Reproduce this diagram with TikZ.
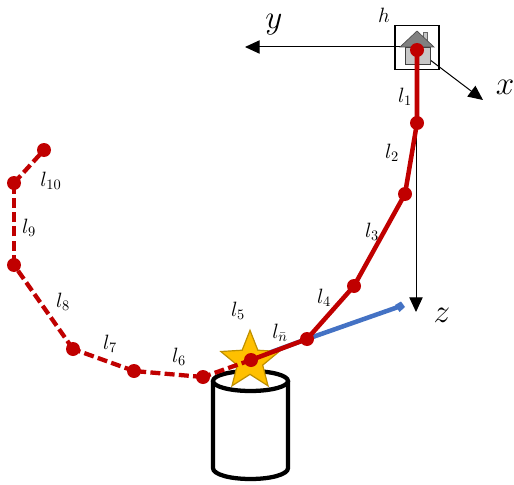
\documentclass[tikz,border=0pt]{standalone}
\usetikzlibrary{arrows.meta,shapes.geometric}
\definecolor{jred}{HTML}{C00000}
\definecolor{jblue}{HTML}{4472C4}
\definecolor{jstar}{HTML}{FFC000}
\definecolor{jstaredge}{HTML}{BF9000}
\tikzset{
  joint/.style={circle,fill=jred,inner sep=0pt,minimum size=10.5pt},
  axis/.style={draw=black,line width=0.75pt,-{Triangle[length=11pt,width=10pt]}},
  solidlink/.style={draw=jred,line width=3.4pt},
  dashlink/.style={draw=jred,line width=3.2pt,dash pattern=on 7.5pt off 3.2pt},
  lbl/.style={inner sep=0pt,font=\Large,scale=1.08},
  axlbl/.style={inner sep=0pt,font=\huge,scale=1.2},
}
\begin{document}
\begin{tikzpicture}[x=0.75pt,y=-0.75pt]
\useasboundingbox (0,0) rectangle (514,485);
% coordinates
\coordinate (o) at (417,50);
\coordinate (yend) at (245,47);
\coordinate (xend) at (483,100);
\coordinate (zend) at (416,312);
\coordinate (bend) at (401,306);
% axes
\draw[axis] (417,47) -- (yend);
\draw[axis] (417,50) -- (xend);
\draw[axis] (416,50) -- (zend);
% house box
\node[draw=black,line width=0.9pt,minimum width=33pt,minimum height=33.5pt,inner sep=0pt,fill=none] (hbox) at (417,47.5) {};
% house
\draw[fill=black!22,draw=black!75!white,line width=0.6pt] (405,47) rectangle (430,64);
\draw[fill=black!22,draw=black!60,line width=0.5pt] (423,32) rectangle (427,42);
\draw[fill=black!50,draw=black!70,line width=0.5pt] (400,47) -- (417,31) -- (434,47) -- cycle;
% cylinder
\draw[line width=3.2pt,fill=white,draw=black] (213,381) -- (213,468) .. controls (213,474.5) and (230,479) .. (250.5,479) .. controls (271,479) and (288,474.5) .. (288,468) -- (288,381);
\draw[line width=3.2pt,fill=white] (250.5,381) ellipse[x radius=37.5,y radius=10];
% blue link
\draw[draw=jblue,line width=3.4pt] (255,358) -- (307,339) -- (bend);
\fill[jblue] (401,301.5) -- (405,307) -- (399.5,312) -- (395,305) -- cycle;
% star
\node[star,star points=5,star point ratio=2.3,draw=jstaredge,fill=jstar,line width=0.9pt,minimum size=46pt,inner sep=0pt] (goal) at (250,361) {};
\draw[draw=jblue,line width=2pt] (255,358) -- (264,355);
% joints
\node[joint] (j0) at (417,50) {};
\node[joint] (j1) at (417,123) {};
\node[joint] (j2) at (405,194) {};
\node[joint] (j3) at (354,286) {};
\node[joint] (j4) at (307,339) {};
\node[joint] (j5) at (251,360) {};
\node[joint] (j6) at (203,377) {};
\node[joint] (j7) at (134,371) {};
\node[joint] (j8) at (73,349) {};
\node[joint] (j9) at (14,265) {};
\node[joint] (j10) at (14,183) {};
\node[joint] (j11) at (44,150) {};
% links
\draw[solidlink] (j0.center) -- (j1.center) -- (j2.center) -- (j3.center) -- (j4.center) -- (j5.center);
\draw[dashlink] (j5.center) -- (j6.center);
\draw[dashlink] (j6.center) -- (j7.center);
\draw[dashlink] (j7.center) -- (j8.center);
\draw[dashlink] (j8.center) -- (j9.center);
\draw[dashlink] (j9.center) -- (j10.center);
\draw[dashlink] (j10.center) -- (j11.center);
% labels
\node[axlbl] (ly) at (274,25) {$y$};
\node[axlbl] (lx) at (505,87) {$x$};
\node[axlbl] (lz) at (442,315) {$z$};
\node[lbl] (lh) at (384,15) {$h$};
\node[lbl] (l1) at (405,97) {$l_{1}$};
\node[lbl] (l2) at (392,153) {$l_{2}$};
\node[lbl] (l3) at (372,232) {$l_{3}$};
\node[lbl] (l4) at (324,298) {$l_{4}$};
\node[lbl] (l5) at (238,311) {$l_{5}$};
\node[lbl] (ln) at (280,333) {$l_{\bar n}$};
\node[lbl] (l6) at (179,357) {$l_{6}$};
\node[lbl] (l7) at (110,344) {$l_{7}$};
\node[lbl] (l8) at (63,302) {$l_{8}$};
\node[lbl] (l9) at (29,228) {$l_{9}$};
\node[lbl] (l10) at (51,181) {$l_{10}$};
\end{tikzpicture}
\end{document}
